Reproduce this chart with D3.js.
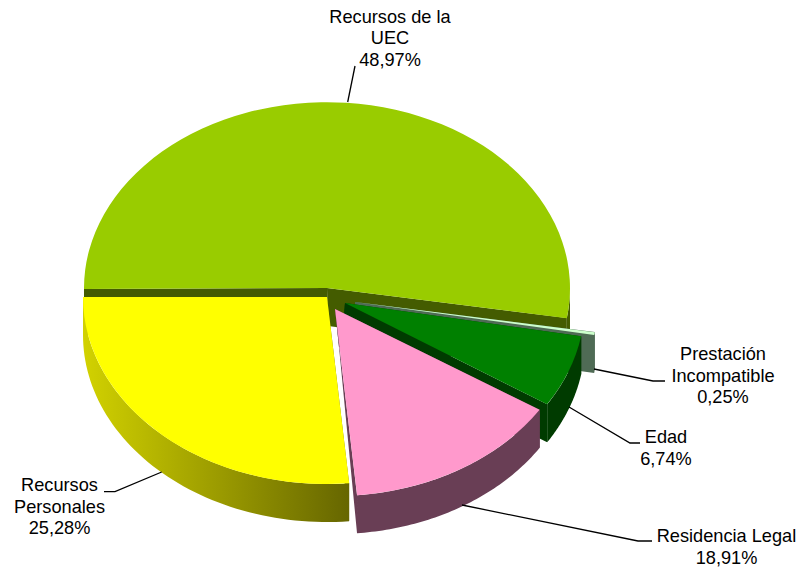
<!DOCTYPE html>
<html>
<head>
<meta charset="utf-8">
<script src="https://cdnjs.cloudflare.com/ajax/libs/d3/7.8.5/d3.min.js"></script>
<style>
  html, body { margin: 0; padding: 0; background: #fff; }
  svg { display: block; }
  text { font-family: "Liberation Sans", Arial, sans-serif; font-size: 18.2px; fill: #000; }
</style>
</head>
<body>
<div id="chartContainer"></div>
<script>
// Values, clockwise from the left edge of the pie
var categories = ["Recursos de la UEC", "Prestación Incompatible", "Edad", "Residencia Legal", "Recursos Personales"];
var shares = [48.97, 0.25, 6.74, 18.91, 25.28];

// Labels, one array per line break
var labelLines = [["Recursos de la", "UEC"], ["Prestación", "Incompatible"], ["Edad"], ["Residencia Legal"], ["Recursos", "Personales"]];

// Look of each slice
var topColors = ["#99cc00", "#ccffcc", "#008000", "#ff99cc", "#ffff00"];
var wallColors = ["#445c00", "#4f6b55", "#003b00", "#693e55", "url(#yellowWall)"];

// Exploded centres and radii of the tilted disc
var centerX = [327, 355, 345, 335, 327];
var centerY = [288, 302, 303, 309, 297];
var radiusX = [243, 243, 240, 243, 244];
var radiusY = [186, 186, 188, 187, 187];
var apexShift = [1, 0, -3, 4, 0];
var depth = 38;

// The painter order, back to front
var drawOrder = [0, 1, 2, 4, 3];

// The picture has perspective, so share -> screen angle is not quite linear
var screenAngles = [-90.3, 99.3, 100.2, 122.6, 174.8, 270];

// Label text blocks and leader lines
var labelX = [390, 723, 666, 726.5, 59.5];
var labelY = [22.5, 360, 443, 542, 491];
var leaders = [
  [[347.7, 102], [355, 66]],
  [[594, 369], [653, 381], [665, 381]],
  [[569, 407], [630, 443], [640, 443]],
  [[462, 505], [638, 541], [652, 541]],
  [[161.7, 472], [115, 491.7], [104, 491.7]]
];

var svg = d3.select("#chartContainer").append("svg")
  .attr("width", 801)
  .attr("height", 568);

var grad = svg.append("defs").append("linearGradient")
  .attr("id", "yellowWall")
  .attr("gradientUnits", "userSpaceOnUse")
  .attr("x1", 83).attr("x2", 349).attr("y1", 0).attr("y2", 0);
grad.append("stop").attr("offset", 0).attr("stop-color", "#d2d200");
grad.append("stop").attr("offset", 1).attr("stop-color", "#666600");

var pie = d3.pie().sort(null).value(function (d) { return d; });
var arcs = pie(shares);

// share (radians of the pie) -> screen angle (radians)
var bounds = [0].concat(arcs.map(function (a) { return a.endAngle; }));
var warp = d3.scaleLinear()
  .domain(bounds)
  .range(screenAngles.map(function (d) { return d * Math.PI / 180; }));

var topArc = d3.arc().innerRadius(0).outerRadius(1);
var poly = d3.line();

function rim(i, t) {
  return [centerX[i] + radiusX[i] * Math.sin(t), centerY[i] - radiusY[i] * Math.cos(t)];
}

// Flat side of a slice, from the centre out to the rim at angle t
function radialWall(i, t) {
  var p = rim(i, t);
  return poly([
    [centerX[i], centerY[i]],
    p,
    [p[0], p[1] + depth],
    [centerX[i] + apexShift[i], centerY[i] + depth]
  ]) + "Z";
}

// Curved outside wall between two angles
function outerWall(i, t0, t1) {
  var steps = d3.range(0, 61).map(function (k) { return t0 + (t1 - t0) * k / 60; });
  return d3.area()
    .x(function (t) { return rim(i, t)[0]; })
    .y0(function (t) { return rim(i, t)[1]; })
    .y1(function (t) { return rim(i, t)[1] + depth; })(steps);
}

drawOrder.forEach(function (i) {
  var t0 = warp(arcs[i].startAngle), t1 = warp(arcs[i].endAngle);
  var g = svg.append("g").attr("class", "slice");

  [t0, t1].forEach(function (t) {
    g.append("path").attr("d", radialWall(i, t)).attr("fill", wallColors[i]);
  });
  // only the front half of the rim ever shows
  var a = Math.max(t0, Math.PI / 2), b = t1;
  if (b > a) g.append("path").attr("d", outerWall(i, a, b)).attr("fill", wallColors[i]);

  g.append("path")
    .attr("d", topArc({ startAngle: t0, endAngle: t1 }))
    .attr("transform", "translate(" + centerX[i] + "," + centerY[i] + ") scale(" + radiusX[i] + "," + radiusY[i] + ")")
    .attr("fill", topColors[i]);
});

// Leader lines
svg.selectAll("path.leader")
  .data(leaders)
  .enter()
  .append("path")
  .attr("class", "leader")
  .attr("d", function (d) { return d3.line()(d); })
  .attr("fill", "none")
  .attr("stroke", "#000")
  .attr("stroke-width", 1.3);

// Labels
var lineHeight = 21.5;
categories.forEach(function (c, i) {
  var lines = labelLines[i].concat([shares[i].toFixed(2).replace(".", ",") + "%"]);
  svg.selectAll("text.label" + i)
    .data(lines)
    .enter()
    .append("text")
    .attr("class", "label" + i)
    .attr("x", labelX[i])
    .attr("y", function (d, k) { return labelY[i] + k * lineHeight; })
    .attr("text-anchor", "middle")
    .text(function (d) { return d; });
});
</script>
</body>
</html>
